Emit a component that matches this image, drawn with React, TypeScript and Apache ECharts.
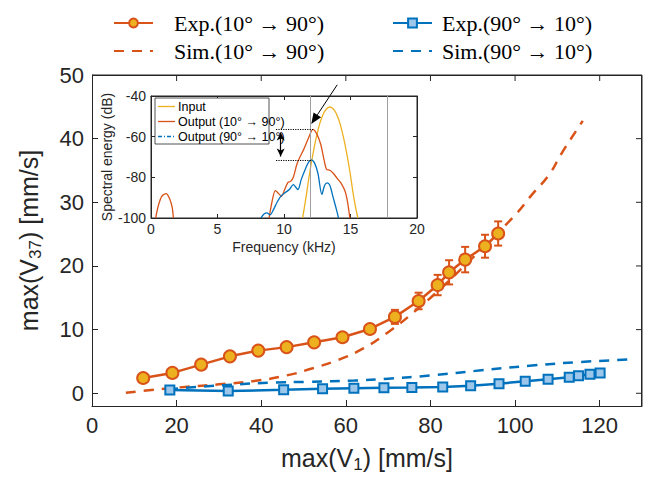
import React, { useEffect, useRef } from 'react';
import * as echarts from 'echarts';

// ---------- Main chart data ----------
const expUpX = [12.1, 19.0, 25.8, 32.6, 39.3, 46.0, 52.5, 59.2, 65.7, 71.6, 77.2, 81.7, 84.4, 88.2, 92.9, 96.0];
const expUpY = [2.4, 3.2, 4.5, 5.8, 6.7, 7.25, 8.0, 8.8, 10.1, 12.0, 14.5, 17.0, 19.0, 21.0, 23.1, 25.1];
const expUpErr = [0.3, 0.3, 0.3, 0.3, 0.3, 0.3, 0.3, 0.3, 0.4, 1.1, 1.3, 1.6, 1.9, 2.0, 1.8, 1.9];

const simUpX = [8, 14, 22, 30, 38, 46, 52, 58, 64, 70, 76, 82, 88, 94, 100, 104, 108, 111, 114, 116];
const simUpY = [0.1, 0.5, 1.0, 1.4, 1.9, 2.8, 3.9, 5.2, 7.0, 9.6, 12.7, 16.2, 20.0, 24.0, 28.0, 31.2, 34.3, 37.7, 40.8, 42.8];

const expDownX = [18.4, 32.2, 45.3, 54.5, 61.9, 69.0, 75.6, 82.9, 89.5, 96.2, 102.4, 107.8, 112.8, 115.0, 117.7, 120.1];
const expDownY = [0.5, 0.35, 0.55, 0.7, 0.8, 0.85, 0.9, 1.0, 1.2, 1.5, 1.9, 2.2, 2.5, 2.75, 3.0, 3.2];
const expDownErr = [0.15, 0.15, 0.15, 0.15, 0.15, 0.15, 0.15, 0.15, 0.15, 0.15, 0.15, 0.15, 0.15, 0.15, 0.15, 0.15];

const simDownX = [18, 25, 33, 42, 51, 62, 70, 80, 92, 104, 115, 127];
const simDownY = [0.6, 1.0, 1.35, 1.65, 1.8, 2.0, 2.3, 2.8, 3.6, 4.35, 4.9, 5.3];

const mainXTicks = [0, 20, 40, 60, 80, 100, 120];
const mainYTicks = [0, 10, 20, 30, 40, 50];
const X_MIN = 0, X_MAX = 130, Y_MIN = -2, Y_MAX = 50;

// ---------- Inset data ----------
const inputF = [11.4, 11.65, 11.95, 12.25, 12.55, 12.85, 13.15, 13.45, 13.75, 14.05, 14.35, 14.65, 14.95, 15.25, 15.55];
const inputE = [-100, -90, -77, -66, -57, -50.5, -46.7, -45.4, -46.7, -50.5, -57, -66, -77, -90, -100];

const outUpLowF = [0.35, 0.55, 0.8, 1.13, 1.4, 1.6, 1.68];
const outUpLowE = [-100, -94, -89.5, -88, -90.5, -95, -100];
const outUpF = [8.88, 9.1, 9.35, 9.6, 9.8, 10.05, 10.3, 10.5, 10.7, 11.0, 11.5, 11.85, 12.18, 12.45, 12.75, 13.0, 13.2, 13.45, 13.7, 14.0, 14.3, 14.6, 14.8, 14.95];
const outUpE = [-100, -92, -86.5, -88, -89.3, -86, -82.5, -82, -80, -73, -66, -60.5, -56.4, -58.5, -63.5, -71, -76, -76.5, -78, -80.5, -83, -87, -93, -100];

const outDownF = [8.26, 8.5, 8.72, 8.95, 9.2, 9.5, 9.8, 10.1, 10.4, 10.7, 10.9, 11.05, 11.3, 11.6, 11.85, 12.05, 12.3, 12.55, 12.85, 13.05, 13.25, 13.45, 13.7, 13.95, 14.1];
const outDownE = [-100, -98, -97.5, -98.5, -96, -92, -89, -87.5, -86, -83.6, -85, -86, -81, -76, -72.5, -71.4, -73, -78, -88.4, -84, -82.7, -84, -90, -96, -100];

const refFreqs = [12, 17.8];
const arrowFrom = [14.0, -34.5];
const arrowTo = [12.05, -53.8];

const ORANGE = '#D95319';
const YELLOW = '#EDB120';
const BLUE = '#0072BD';
const AX = '#262626';
const SANS = '"Liberation Sans", Arial, Helvetica, sans-serif';
const SERIF = '"Liberation Serif", "DejaVu Serif", serif';

const nameUp = 'Exp.(10° → 90°)';
const nameSimUp = 'Sim.(10° → 90°)';
const nameDown = 'Exp.(90° → 10°)';
const nameSimDown = 'Sim.(90° → 10°)';
const inName1 = 'Input';
const inName2 = 'Output (10° → 90°)';
const inName3 = 'Output (90° → 10°)';

const GL = 92, GT = 75, GW = 550, GH = 331;

const zip = (a: number[], b: number[]) => a.map((v, i) => [v, b[i]]);

function errStems(color: string) {
  return (params: any, api: any) => {
    const x = api.value(0);
    const lo = api.coord([x, api.value(1)]);
    const hi = api.coord([x, api.value(2)]);
    return {
      type: 'line',
      shape: { x1: lo[0], y1: lo[1], x2: hi[0], y2: hi[1] },
      style: { stroke: color, lineWidth: 2 },
    };
  };
}
function errCaps(color: string, w: number) {
  return (params: any, api: any) => {
    const x = api.value(0);
    const lo = api.coord([x, api.value(1)]);
    const hi = api.coord([x, api.value(2)]);
    const style = { stroke: color, lineWidth: 2 };
    return {
      type: 'group',
      children: [
        { type: 'line', shape: { x1: lo[0] - w, y1: lo[1], x2: lo[0] + w, y2: lo[1] }, style },
        { type: 'line', shape: { x1: hi[0] - w, y1: hi[1], x2: hi[0] + w, y2: hi[1] }, style },
      ],
    };
  };
}
// top / right frame of the main axes with mirrored inward ticks
function frameItem(params: any, api: any) {
  const tl = api.coord([X_MIN, Y_MAX]);
  const tr = api.coord([X_MAX, Y_MAX]);
  const br = api.coord([X_MAX, Y_MIN]);
  const st = { stroke: AX, lineWidth: 1 };
  const children: any[] = [
    { type: 'line', shape: { x1: tl[0], y1: tl[1], x2: tr[0], y2: tr[1] }, style: st },
    { type: 'line', shape: { x1: tr[0], y1: tr[1], x2: br[0], y2: br[1] }, style: st },
  ];
  mainXTicks.filter((t) => t > X_MIN).forEach((t) => {
    const p = api.coord([t, Y_MAX]);
    children.push({ type: 'line', shape: { x1: p[0], y1: p[1], x2: p[0], y2: p[1] + 6 }, style: st });
  });
  mainYTicks.filter((t) => t < Y_MAX).forEach((t) => {
    const p = api.coord([X_MAX, t]);
    children.push({ type: 'line', shape: { x1: p[0], y1: p[1], x2: p[0] - 6, y2: p[1] }, style: st });
  });
  return { type: 'group', children };
}

const hideSym = { opacity: 0 };

export default function App() {
  const ref = useRef<HTMLDivElement>(null);
  useEffect(() => {
    if (!ref.current) return;
    const chart = echarts.init(ref.current, undefined, { renderer: 'svg' });

    const mainAxisCommon = {
      gridIndex: 0,
      axisLine: { show: true, onZero: false, lineStyle: { color: AX, width: 1 } },
      axisTick: { show: true, inside: true, length: 6, lineStyle: { color: AX } },
      splitLine: { show: false },
    };
    const insetAxisCommon = {
      gridIndex: 1,
      axisLine: { show: true, onZero: false, lineStyle: { color: AX, width: 1 } },
      axisTick: { show: true, inside: true, length: 4, lineStyle: { color: AX } },
      splitLine: { show: false },
    };

    const upErrData = expUpX.map((x, i) => [x, expUpY[i] - expUpErr[i], expUpY[i] + expUpErr[i]]);
    const downErrData = expDownX.map((x, i) => [x, expDownY[i] - expDownErr[i], expDownY[i] + expDownErr[i]]);

    const option: any = {
      animation: false,
      backgroundColor: '#fff',
      grid: [
        { left: GL, top: GT, width: GW, height: GH, outerBoundsMode: 'none', containLabel: false },
        {
          left: 151, top: 96, width: 266, height: 122, outerBoundsMode: 'none', containLabel: false,
          show: true, backgroundColor: '#fff', borderColor: AX, borderWidth: 1,
        },
      ],
      legend: [
        {
          data: [nameUp, { name: nameSimUp, itemStyle: hideSym }],
          orient: 'vertical', left: 108, top: 7, itemWidth: 39, itemHeight: 11, itemGap: 6,
          textStyle: { fontFamily: SERIF, fontSize: 22, color: '#000', padding: [0, 0, 0, 16] },
        },
        {
          data: [nameDown, { name: nameSimDown, itemStyle: hideSym }],
          orient: 'vertical', left: 387, top: 7, itemWidth: 39, itemHeight: 11, itemGap: 6,
          textStyle: { fontFamily: SERIF, fontSize: 22, color: '#000', padding: [0, 0, 0, 5] },
        },
      ],
      xAxis: [
        {
          ...mainAxisCommon, type: 'value', position: 'bottom', min: X_MIN, max: X_MAX,
          axisTick: { ...mainAxisCommon.axisTick, customValues: mainXTicks },
          axisLabel: { customValues: mainXTicks, fontFamily: SANS, fontSize: 22, color: AX, margin: 8 },
          name: 'max(V{sub|1}) [mm/s]', nameLocation: 'middle', nameGap: 36,
          nameTextStyle: {
            fontFamily: SANS, fontSize: 25, color: AX,
            rich: { sub: { fontFamily: SANS, fontSize: 17, color: AX, padding: [14, 0, 0, 0] } },
          },
        },
        {
          ...insetAxisCommon, type: 'value', position: 'bottom', min: 0, max: 20, interval: 5,
          axisLabel: { fontFamily: SANS, fontSize: 14, color: AX, margin: 4 },
          name: 'Frequency (kHz)', nameLocation: 'middle', nameGap: 22,
          nameTextStyle: { fontFamily: SANS, fontSize: 14, color: AX },
        },
        {
          ...insetAxisCommon, type: 'value', position: 'top', min: 0, max: 20, interval: 5,
          axisLabel: { show: false },
        },
      ],
      yAxis: [
        {
          ...mainAxisCommon, type: 'value', position: 'left', min: Y_MIN, max: Y_MAX,
          axisTick: { ...mainAxisCommon.axisTick, customValues: mainYTicks },
          axisLabel: { customValues: mainYTicks, fontFamily: SANS, fontSize: 22, color: AX, margin: 8 },
          name: 'max(V{sub|37}) [mm/s]', nameLocation: 'middle', nameGap: 48, nameRotate: 90,
          nameTextStyle: {
            fontFamily: SANS, fontSize: 25, color: AX,
            rich: { sub: { fontFamily: SANS, fontSize: 17, color: AX, padding: [14, 0, 0, 0] } },
          },
        },
        {
          ...insetAxisCommon, type: 'value', position: 'left', min: -100, max: -40, interval: 20,
          axisLabel: { fontFamily: SANS, fontSize: 14, color: AX, margin: 5 },
          name: 'Spectral energy (dB)', nameLocation: 'middle', nameGap: 33, nameRotate: 90,
          nameTextStyle: { fontFamily: SANS, fontSize: 14, color: AX },
        },
        {
          ...insetAxisCommon, type: 'value', position: 'right', min: -100, max: -40, interval: 20,
          axisLabel: { show: false },
        },
      ],
      series: [
        // ---- main chart frame (top/right) ----
        {
          type: 'custom', xAxisIndex: 0, yAxisIndex: 0, silent: true, z: 10, clip: false,
          encode: { x: 0, y: 1 }, data: [[X_MAX, Y_MAX]], renderItem: frameItem,
        },
        // ---- main chart ----
        {
          name: nameSimUp, type: 'line', xAxisIndex: 0, yAxisIndex: 0,
          data: zip(simUpX, simUpY), showSymbol: false, symbol: 'none', smooth: true,
          lineStyle: { color: ORANGE, width: 2.5, type: [10, 8] }, itemStyle: { color: ORANGE },
        },
        {
          name: nameSimDown, type: 'line', xAxisIndex: 0, yAxisIndex: 0,
          data: zip(simDownX, simDownY), showSymbol: false, symbol: 'none', smooth: true,
          lineStyle: { color: BLUE, width: 2.5, type: [10, 8] }, itemStyle: { color: BLUE },
        },
        {
          type: 'custom', xAxisIndex: 0, yAxisIndex: 0, silent: true, z: 1,
          encode: { x: 0, y: [1, 2] }, data: upErrData, renderItem: errStems(ORANGE),
        },
        {
          name: nameUp, type: 'line', xAxisIndex: 0, yAxisIndex: 0,
          data: zip(expUpX, expUpY), symbol: 'circle', symbolSize: 12,
          lineStyle: { color: ORANGE, width: 2.5 },
          itemStyle: { color: YELLOW, borderColor: ORANGE, borderWidth: 2 },
        },
        {
          type: 'custom', xAxisIndex: 0, yAxisIndex: 0, silent: true, z: 3,
          encode: { x: 0, y: [1, 2] }, data: upErrData, renderItem: errCaps(ORANGE, 4),
        },
        {
          name: nameDown, type: 'line', xAxisIndex: 0, yAxisIndex: 0,
          data: zip(expDownX, expDownY), symbol: 'rect', symbolSize: 9,
          lineStyle: { color: BLUE, width: 2.5 },
          itemStyle: { color: '#9cc7ea', borderColor: BLUE, borderWidth: 2 },
        },
        {
          type: 'custom', xAxisIndex: 0, yAxisIndex: 0, silent: true, z: 3,
          encode: { x: 0, y: [1, 2] }, data: downErrData, renderItem: errCaps(BLUE, 3),
        },
        // ---- inset ----
        {
          name: inName1, type: 'line', xAxisIndex: 1, yAxisIndex: 1,
          data: zip(inputF, inputE), showSymbol: false, symbol: 'none', smooth: true,
          lineStyle: { color: YELLOW, width: 1.3 }, itemStyle: { color: YELLOW },
          markLine: {
            silent: true, symbol: 'none', label: { show: false },
            lineStyle: { color: '#a0a0a0', width: 1, type: 'solid' },
            data: refFreqs.map((f) => ({ xAxis: f })),
          },
        },
        {
          name: inName2, type: 'line', xAxisIndex: 1, yAxisIndex: 1,
          data: [...zip(outUpLowF, outUpLowE), '-', ...zip(outUpF, outUpE)],
          showSymbol: false, symbol: 'none', smooth: 0.3, connectNulls: false,
          lineStyle: { color: ORANGE, width: 1.3 }, itemStyle: { color: ORANGE },
          markLine: {
            silent: true, label: { show: false }, symbol: 'none',
            lineStyle: { color: '#000', width: 1.2, type: 'dotted' },
            data: [
              [{ coord: [9.4, -56.4] }, { coord: [12.18, -56.4] }],
              [{ coord: [9.4, -71.4] }, { coord: [12.05, -71.4] }],
              [
                { coord: [9.75, -58], symbol: 'arrow', symbolSize: [6, 8], lineStyle: { type: 'solid', width: 1.2 } },
                { coord: [9.75, -69.8], symbol: 'arrow', symbolSize: [6, 8] },
              ],
            ],
          },
        },
        {
          name: inName3, type: 'line', xAxisIndex: 1, yAxisIndex: 1,
          data: zip(outDownF, outDownE), showSymbol: false, symbol: 'none', smooth: 0.3,
          lineStyle: { color: BLUE, width: 1.3 }, itemStyle: { color: BLUE },
        },
      ],
    };
    chart.setOption(option);

    const graphics: any[] = [];
    const toInset = (v: number[]) => chart.convertToPixel({ xAxisIndex: 1, yAxisIndex: 1 }, v) as number[];

    // black pointer arrow in the inset, placed through the inset's own axes
    const p1 = toInset(arrowFrom);
    const p2 = toInset(arrowTo);
    if (p1 && p2) {
      const dx = p2[0] - p1[0];
      const dy = p2[1] - p1[1];
      const len = Math.sqrt(dx * dx + dy * dy);
      const ux = dx / len;
      const uy = dy / len;
      const headL = 11;
      const headW = 4.5;
      const bx = p2[0] - ux * headL;
      const by = p2[1] - uy * headL;
      graphics.push(
        {
          type: 'line', z: 100,
          shape: { x1: p1[0], y1: p1[1], x2: bx, y2: by },
          style: { stroke: '#000', lineWidth: 1 },
        },
        {
          type: 'polygon', z: 100,
          shape: {
            points: [
              [p2[0], p2[1]],
              [bx - uy * headW, by + ux * headW],
              [bx + uy * headW, by - ux * headW],
            ],
          },
          style: { fill: '#000' },
        },
      );
    }

    // inset legend box
    const LX = 155, LY = 98, LW = 114, LH = 46, ROW = 15;
    const legendItems = [
      { name: inName1, color: YELLOW, dash: null as any },
      { name: inName2, color: ORANGE, dash: null as any },
      { name: inName3, color: BLUE, dash: [4, 2, 1, 2] },
    ];
    graphics.push({
      type: 'rect', z: 90,
      shape: { x: LX, y: LY, width: LW, height: LH },
      style: { fill: '#fff', stroke: AX, lineWidth: 0.8 },
    });
    legendItems.forEach((it, i) => {
      const cy = LY + 8.5 + i * ROW;
      graphics.push({
        type: 'line', z: 91,
        shape: { x1: LX + 3, y1: cy, x2: LX + 20, y2: cy },
        style: { stroke: it.color, lineWidth: 1.3, lineDash: it.dash },
      });
      graphics.push({
        type: 'text', z: 91, x: LX + 23, y: cy,
        style: { text: it.name, font: `12.5px ${SANS}`, fill: '#000', verticalAlign: 'middle', align: 'left' },
      });
    });

    chart.setOption({ graphic: graphics });
    return () => chart.dispose();
  }, []);
  return (
    <div style={{ position: 'fixed', left: 0, top: 0, width: 649, height: 477 }}>
      <div ref={ref} style={{ position: 'absolute', left: 0, top: 0, width: 649, height: 477 }} />
      <div
        style={{
          position: 'absolute', left: GL, top: GT, width: GW, height: GH, boxSizing: 'border-box',
          borderTop: `1px solid ${AX}`, borderRight: `1px solid ${AX}`, pointerEvents: 'none',
        }}
      />
    </div>
  );
}
